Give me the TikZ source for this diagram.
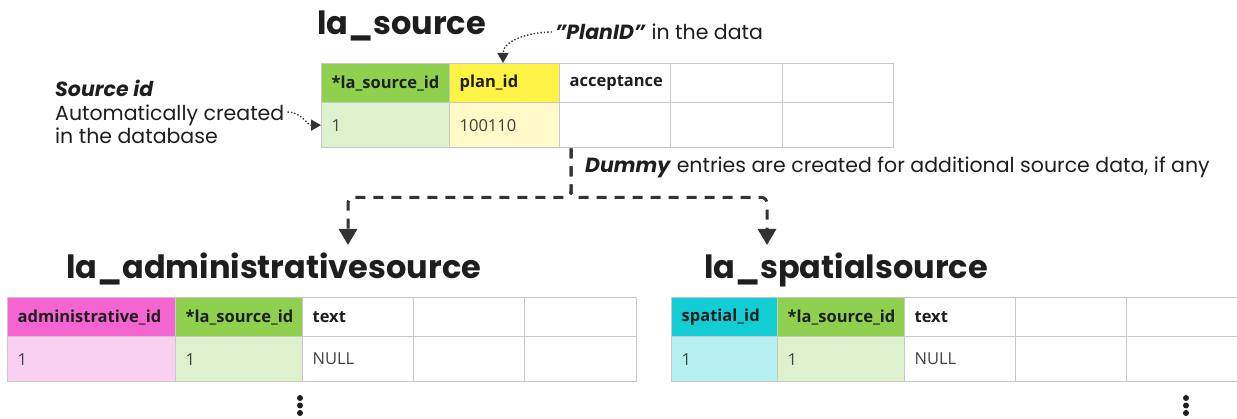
\documentclass[tikz,border=0pt]{standalone}
\usepackage{fontspec}
\setmainfont{Poppins}
\newfontfamily\cellfont{Open Sans}
\usetikzlibrary{arrows.meta}

\definecolor{ink}{HTML}{1E1E1E}
\definecolor{arrowgray}{HTML}{333333}
\definecolor{gridgray}{HTML}{C8C8C8}
\definecolor{keygreen}{HTML}{8FD14F}
\definecolor{keygreenlt}{HTML}{DDF1CC}
\definecolor{planyellow}{HTML}{FFF445}
\definecolor{planyellowlt}{HTML}{FFFAC8}
\definecolor{adminpink}{HTML}{F565D2}
\definecolor{adminpinklt}{HTML}{F9D0F0}
\definecolor{spatialcyan}{HTML}{12CDD4}
\definecolor{spatialcyanlt}{HTML}{B6F0F1}

\tikzset{
  hcell/.style={draw=gridgray, line width=1.3pt, anchor=north west, inner xsep=10pt, inner ysep=0pt,
    minimum height=39pt, align=left, text=ink, font=\cellfont\bfseries\fontsize{16.5}{19}\selectfont},
  dcell/.style={draw=gridgray, line width=1.3pt, anchor=north west, inner xsep=10pt, inner ysep=0pt,
    minimum height=45pt, align=left, text=ink!85, font=\cellfont\fontsize{16.5}{19}\selectfont},
  tabletitle/.style={anchor=base west, inner sep=0pt, text=ink, font=\bfseries\fontsize{32}{36}\selectfont},
  note/.style={inner sep=0pt, text=ink, font=\fontsize{20.5}{23.5}\selectfont},
  hint/.style={draw=arrowgray, line width=1.4pt, dotted, -{Triangle[width=11pt,length=10pt]}},
  dummy/.style={draw=arrowgray, line width=3pt, dash pattern=on 10pt off 8pt, rounded corners=6pt,
    -{Triangle[width=18pt,length=16pt]}},
}

\begin{document}
\begin{tikzpicture}[x=1pt, y=-1pt]
  \useasboundingbox (0,0) rectangle (1237,419);
  \clip (0,0) rectangle (1237,419);

  % la_source
  \node[tabletitle] (srctitle) at (317,35) {la\_source};
  \node[hcell, fill=keygreen, text width=108pt] (src h1) at (321,63) {*la\_source\_id};
  \node[hcell, fill=planyellow, text width=90pt] (src h2) at (449,63) {plan\_id};
  \node[hcell, text width=91pt] (src h3) at (559,63) {acceptance};
  \node[hcell, text width=92pt] (src h4) at (670,63) {};
  \node[hcell, text width=91pt] (src h5) at (782,63) {};
  \node[dcell, fill=keygreenlt, text width=108pt] (src d1) at (321,102) {1};
  \node[dcell, fill=planyellowlt, text width=90pt] (src d2) at (449,102) {100110};
  \node[dcell, text width=91pt] (src d3) at (559,102) {};
  \node[dcell, text width=92pt] (src d4) at (670,102) {};
  \node[dcell, text width=91pt] (src d5) at (782,102) {};

  % notes on la_source
  \node[note, anchor=west, align=left] (srcnote) at (55,112)
    {\textbf{\textit{Source id}}\\Automatically created\\in the database};
  \node[note, anchor=west] (plannote) at (555,32)
    {\textbf{\textit{\symbol{34}PlanID\symbol{34}}} in the data};
  \draw[hint] ([xshift=3pt]srcnote.east) to[out=0, in=180] (src d1.west);
  \draw[hint] ([xshift=-3pt]plannote.west) to[out=180, in=90] ([xshift=54pt]src h2.north west);

  % dummy entries
  \node[note, anchor=west] (dummynote) at (585,167)
    {\textbf{\textit{Dummy}} entries are created for additional source data, if any};
  \coordinate (admin in) at (348,245);
  \coordinate (spatial in) at (767,245);
  \draw[dummy] ([xshift=12pt]src d3.south west) -- ++(0,49) -| (admin in);
  \draw[dummy] ([xshift=12pt]src d3.south west) -- ++(0,49) -| (spatial in);

  % la_administrativesource
  \node[tabletitle] (admtitle) at (66,279) {la\_administrativesource};
  \node[hcell, fill=adminpink, text width=148pt] (adm h1) at (7,297) {administrative\_id};
  \node[hcell, fill=keygreen, text width=107pt] (adm h2) at (175,297) {*la\_source\_id};
  \node[hcell, text width=91pt] (adm h3) at (302,297) {text};
  \node[hcell, text width=91pt] (adm h4) at (413,297) {};
  \node[hcell, text width=92pt] (adm h5) at (524,297) {};
  \node[dcell, fill=adminpinklt, text width=148pt] (adm d1) at (7,336) {1};
  \node[dcell, fill=keygreenlt, text width=107pt] (adm d2) at (175,336) {1};
  \node[dcell, text width=91pt] (adm d3) at (302,336) {NULL};
  \node[dcell, text width=91pt] (adm d4) at (413,336) {};
  \node[dcell, text width=92pt] (adm d5) at (524,336) {};

  % la_spatialsource
  \node[tabletitle] (spatitle) at (704,279) {la\_spatialsource};
  \node[hcell, fill=spatialcyan, text width=86pt] (spa h1) at (671,297) {spatial\_id};
  \node[hcell, fill=keygreen, text width=107pt] (spa h2) at (777,297) {*la\_source\_id};
  \node[hcell, text width=91pt] (spa h3) at (904,297) {text};
  \node[hcell, text width=91pt] (spa h4) at (1015,297) {};
  \node[hcell, text width=94pt] (spa h5) at (1126,297) {};
  \node[dcell, fill=spatialcyanlt, text width=86pt] (spa d1) at (671,336) {1};
  \node[dcell, fill=keygreenlt, text width=107pt] (spa d2) at (777,336) {1};
  \node[dcell, text width=91pt] (spa d3) at (904,336) {NULL};
  \node[dcell, text width=91pt] (spa d4) at (1015,336) {};
  \node[dcell, text width=94pt] (spa d5) at (1126,336) {};

  % more rows
  \foreach \dx in {300,1186}
    \foreach \dy in {398,405.5,413}
      \fill[ink] (\dx,\dy) circle (3pt);
\end{tikzpicture}
\end{document}
